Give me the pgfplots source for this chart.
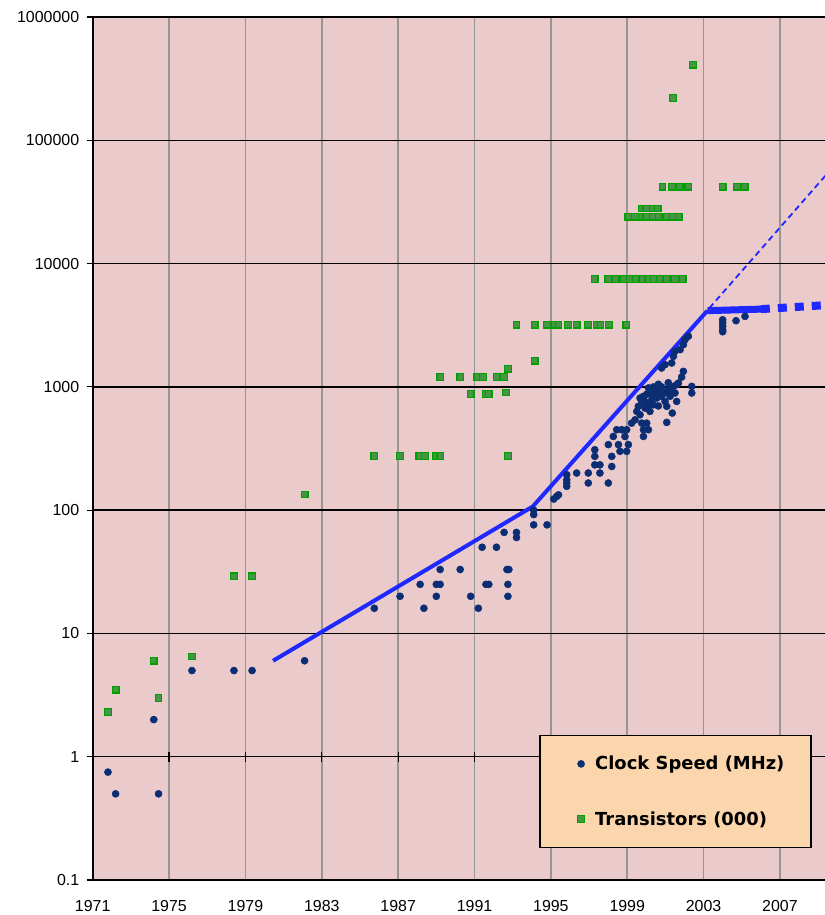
\documentclass[border=0pt]{standalone}
\usepackage{pgfplots}
\usepackage{pgfplotstable}
\pgfplotsset{compat=1.18}
\usepackage{fontspec}
\setmainfont{Liberation Sans}
\newfontfamily\legfont{DejaVu Sans}

\definecolor{bgpink}{RGB}{235,202,204}
\definecolor{legfill}{RGB}{251,214,172}
\definecolor{trend}{RGB}{30,40,255}
\definecolor{clock}{RGB}{10,45,115}
\definecolor{trgreen}{RGB}{0,160,0}
\definecolor{trfill}{RGB}{70,150,70}
\definecolor{vgrid}{RGB}{150,150,150}

% clock speed in MHz
\pgfplotstableread{
year mhz
1971.8 0.75
1972.2 0.5
1974.2 2
1974.45 0.5
1976.2 5
1978.4 5
1979.35 5
1982.1 6
1985.75 16
1987.1 20
1988.15 25
1988.35 16
1989.0 20
1989.0 25
1989.2 25
1989.2 33
1990.25 33
1990.8 20
1991.2 16
1991.4 50
1991.6 25
1991.75 25
1992.15 50
1992.55 66
1992.7 33
1992.8 33
1992.75 25
1992.75 20
1993.2 66
1993.2 60
1994.1 100
1994.1 92
1994.1 76
1994.8 76
1995.15 123
1995.3 129
1995.4 133
1995.83 156
1995.83 166
1995.83 176
1995.83 194
1996.35 200
1996.96 166
1996.96 200
1997.3 233
1997.3 273
1997.3 309
1997.57 233
1997.57 200
1998.01 166
1998.19 226
1998.19 273
1998.01 340
1998.27 396
1998.45 449
1998.54 340
1998.62 300
1998.71 449
1998.88 396
1998.97 449
1999.06 340
1998.97 300
1999.23 508
1999.41 540
1999.5 632
1999.58 695
1999.67 594
1999.76 508
1999.85 449
1999.85 396
2000.02 508
2000.11 449
1999.67 811
1999.85 838
2000.02 870
2000.19 920
1999.93 673
2000.19 632
2000.37 716
2000.54 811
2000.46 979
2000.63 920
2000.8 838
2000.98 762
2001.07 695
2001.24 838
2001.33 920
2001.42 1009
2001.5 892
2001.59 762
2001.36 613
2001.07 515
2001.68 1074
2001.85 1200
2001.94 1336
2001.59 1042
1999.76 760
1999.93 760
2000.11 700
2000.28 780
2000.28 860
2000.11 980
2000.37 1000
2000.63 1050
2000.8 1000
2000.46 880
2000.63 700
2001.15 950
2001.15 1080
2001.0 900
2000.8 1422
2000.98 1514
2001.33 1561
2001.42 1770
2001.5 1941
2001.77 2003
2001.94 2198
2002.03 2415
2002.2 2570
2002.38 1009
2002.38 892
2004.0 2800
2004.0 2900
2004.0 3100
2004.0 3300
2004.0 3500
2004.7 3440
2005.17 3730
}\clocktable

% transistors in thousands
\pgfplotstableread{
year tr
1971.8 2.3
1972.2 3.5
1974.2 6
1974.45 3.0
1976.2 6.5
1978.4 29
1979.35 29
1982.1 134
1985.75 275
1987.1 275
1988.1 275
1988.4 275
1989.0 275
1989.2 275
1992.75 275
1989.2 1200
1990.25 1200
1991.15 1200
1991.45 1200
1992.15 1200
1992.55 1200
1990.8 875
1991.6 875
1991.75 875
1992.65 900
1992.75 1400
1994.15 1630
1993.2 3200
1994.15 3200
1994.8 3200
1995.2 3200
1995.4 3200
1995.9 3200
1996.35 3200
1996.95 3200
1997.4 3200
1997.6 3200
1998.05 3200
1998.95 3200
1997.3 7500
1998.0 7500
1998.4 7500
1998.8 7500
1999.15 7500
1999.45 7500
1999.8 7500
2000.1 7500
2000.4 7500
2000.7 7500
2001.07 7500
2001.5 7500
2001.9 7500
1999.05 24000
1999.4 24000
1999.75 24000
2000.0 24000
2000.35 24000
2000.65 24000
2001.07 24000
2001.4 24000
2001.7 24000
1999.75 28000
2000.0 28000
2000.35 28000
2000.6 28000
2000.85 42000
2001.35 42000
2001.75 42000
2002.2 42000
2004.0 42000
2004.75 42000
2005.15 42000
2001.4 220000
2002.45 410000
}\transtable

\begin{document}
\begin{tikzpicture}
\useasboundingbox (-92.7bp,-35bp) rectangle (732.3bp,880bp);
\begin{axis}[
  scale only axis,
  width=732.3bp, height=863bp,
  xmin=1971, xmax=2009.36,
  ymode=log, ymin=0.1, ymax=1000000,
  xtick={1971,1975,1979,1983,1987,1991,1995,1999,2003,2007},
  xticklabels={1971,1975,1979,1983,1987,1991,1995,1999,2003,2007},
  ytick={0.1,1,10,100,1000,10000,100000,1000000},
  yticklabels={0.1,1,10,100,1000,10000,100000,1000000},
  yminorticks=false,
  axis background/.style={fill=bgpink},
  axis x line*=bottom, axis y line*=left,
  axis line style={-, black, line width=2bp},
  xmajorgrids, ymajorgrids,
  x grid style={vgrid, line width=1.5bp},
  y grid style={black, line width=1.5bp},
  tick align=outside, major tick length=6bp,
  xtick style={draw=none},
  ytick style={black, line width=1.2bp},
  ticklabel style={font=\fontsize{16}{18}\selectfont},
  yticklabel style={xshift=-4bp},
  xticklabel style={yshift=-11bp},
  legend style={
    at={(axis description cs:0.6099,0.1685)}, anchor=north west,
    draw=black, line width=1.5bp, fill=legfill,
    font=\legfont\bfseries\fontsize{18}{20}\selectfont,
    inner xsep=26.5bp, inner ysep=21bp,
    row sep=40bp, column sep=10.5bp,
    nodes={inner sep=0bp, anchor=west},
  },
  legend cell align=left,
  legend image code/.code={\path[draw=none, fill=none] (-14.5bp,0bp) -- (3.5bp,0bp);
    \draw[#1] plot coordinates {(0bp,0bp)};},
]
\pgfplotsinvokeforeach{1975,1979,1983,1987,1991,1995,1999,2003,2007}{
  \draw[black, line width=1.2bp] ([yshift=-5bp]axis cs:#1,1) -- ([yshift=5bp]axis cs:#1,1);
}
\addplot[trend, line width=4bp, forget plot] coordinates {
  (1980.45,6.0) (1994.05,107) (2003.2,4150)};
\addplot[trend, line width=1.8bp, dash pattern=on 6bp off 4bp, forget plot] coordinates {
  (2003.3,4350) (2009.4,52000)};
\addplot[trend, line width=7bp, forget plot] coordinates {
  (2003.2,4150) (2006.0,4270)};
\addplot[trend, line width=8bp, dash pattern=on 9bp off 8bp, forget plot] coordinates {
  (2006.0,4270) (2009.4,4600)};
\addplot[only marks, mark=*, mark size=3.6, draw=clock, fill=clock, line width=0.4bp]
  table[x=year, y=mhz] {\clocktable};
\addlegendentry{Clock Speed (MHz)}
\addplot[only marks, mark=square*, mark size=3.3, draw=trgreen, fill=trfill, line width=1.3bp]
  table[x=year, y=tr] {\transtable};
\addlegendentry{Transistors (000)}
\end{axis}
\end{tikzpicture}
\end{document}
